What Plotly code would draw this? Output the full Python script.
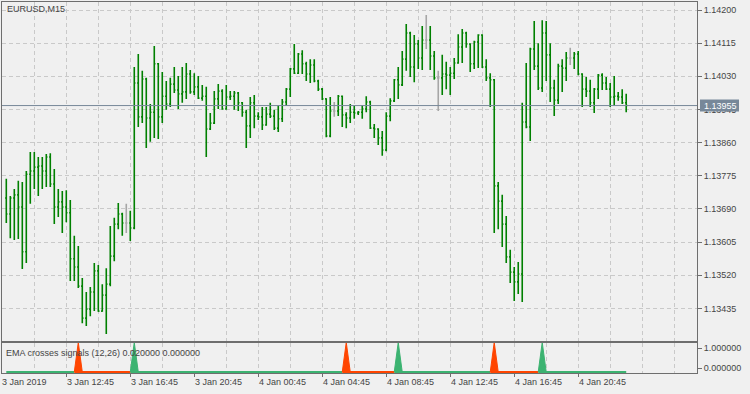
import pandas as pd
import plotly.graph_objects as go

# ---------------- data ----------------
symbol_label = "EURUSD,M15"
indicator_label = "EMA crosses signals (12,26) 0.020000 0.000000"

bar_times = pd.date_range("2019-01-03 09:00", periods=156, freq="15min")

open_prices = [
    1.13718, 1.13677, 1.13718, 1.13726, 1.13695, 1.13580, 1.13779, 1.13787, 1.13797, 1.13800,
    1.13787, 1.13823, 1.13754, 1.13695, 1.13708, 1.13695, 1.13680, 1.13562, 1.13541, 1.13492,
    1.13410, 1.13433, 1.13477, 1.13531, 1.13428, 1.13469, 1.13497, 1.13569, 1.13651, 1.13677,
    1.13654, 1.13654, 1.13641, 1.14013, 1.13926, 1.14023, 1.13923, 1.13938, 1.14062, 1.13926,
    1.13979, 1.13959, 1.14010, 1.13995, 1.13985, 1.13990, 1.14036, 1.13990, 1.14003, 1.13974,
    1.13979, 1.13895, 1.13910, 1.13972, 1.13992, 1.13946, 1.13977, 1.13979, 1.13987, 1.13962,
    1.13938, 1.13903, 1.13962, 1.13928, 1.13926, 1.13905, 1.13933, 1.13928, 1.13897, 1.13921,
    1.13964, 1.13997, 1.14049, 1.14038, 1.14087, 1.14062, 1.14036, 1.14059, 1.14018, 1.13997,
    1.13972, 1.13877, 1.13941, 1.13941, 1.13979, 1.13931, 1.13923, 1.13938, 1.13936, 1.13938,
    1.13946, 1.13964, 1.13897, 1.13895, 1.13872, 1.13841, 1.13928, 1.13967, 1.14021, 1.14008,
    1.14074, 1.14141, 1.14054, 1.14113, 1.14077, 1.14123, 1.14123, 1.14082, 1.14026, 1.14026,
    1.14036, 1.14033, 1.14038, 1.14064, 1.14105, 1.14141, 1.14113, 1.14062, 1.14118, 1.14136,
    1.14054, 1.14026, 1.14021, 1.13749, 1.13710, 1.13651, 1.13567, 1.13528, 1.13503, 1.13523,
    1.13913, 1.13900, 1.14100, 1.14056, 1.14000, 1.14141, 1.14085, 1.14000, 1.13969, 1.14056,
    1.14051, 1.14077, 1.14077, 1.14087, 1.14036, 1.13997, 1.13992, 1.13962, 1.13997, 1.14033,
    1.14013, 1.13997, 1.13977, 1.13979, 1.13977, 1.13962,
]
high_prices = [
    1.13767, 1.13723, 1.13741, 1.13762, 1.13759, 1.13787, 1.13836, 1.13836, 1.13823, 1.13823,
    1.13831, 1.13833, 1.13792, 1.13741, 1.13736, 1.13738, 1.13713, 1.13621, 1.13595, 1.13513,
    1.13477, 1.13490, 1.13551, 1.13546, 1.13497, 1.13538, 1.13646, 1.13667, 1.13705, 1.13680,
    1.13703, 1.13685, 1.14054, 1.14087, 1.14044, 1.14026, 1.13959, 1.14108, 1.14064, 1.14041,
    1.14018, 1.14026, 1.14054, 1.14031, 1.14054, 1.14064, 1.14046, 1.14038, 1.14031, 1.14008,
    1.14003, 1.13936, 1.13992, 1.14010, 1.13997, 1.14008, 1.13992, 1.13992, 1.13990, 1.13964,
    1.13944, 1.13977, 1.13982, 1.13938, 1.13951, 1.13951, 1.13962, 1.13944, 1.13956, 1.13972,
    1.14000, 1.14051, 1.14113, 1.14090, 1.14097, 1.14067, 1.14074, 1.14074, 1.14021, 1.14000,
    1.13974, 1.13977, 1.13964, 1.13982, 1.13981, 1.13938, 1.13959, 1.13954, 1.13941, 1.13956,
    1.13979, 1.13967, 1.13908, 1.13897, 1.13890, 1.13938, 1.13974, 1.14023, 1.14054, 1.14095,
    1.14164, 1.14144, 1.14136, 1.14123, 1.14159, 1.14187, 1.14159, 1.14095, 1.14044, 1.14085,
    1.14067, 1.14054, 1.14077, 1.14138, 1.14151, 1.14144, 1.14115, 1.14121, 1.14138, 1.14138,
    1.14074, 1.14038, 1.14023, 1.13759, 1.13726, 1.13672, 1.13585, 1.13541, 1.13554, 1.13962,
    1.14064, 1.14103, 1.14172, 1.14115, 1.14174, 1.14172, 1.14115, 1.14021, 1.14062, 1.14074,
    1.14092, 1.14103, 1.14092, 1.14095, 1.14038, 1.14028, 1.14021, 1.14000, 1.14036, 1.14038,
    1.14028, 1.14013, 1.14031, 1.13990, 1.13997, 1.13985,
]
low_prices = [
    1.13654, 1.13615, 1.13610, 1.13613, 1.13536, 1.13551, 1.13703, 1.13741, 1.13723, 1.13741,
    1.13746, 1.13746, 1.13651, 1.13669, 1.13628, 1.13656, 1.13505, 1.13505, 1.13487, 1.13397,
    1.13390, 1.13415, 1.13428, 1.13426, 1.13426, 1.13369, 1.13492, 1.13556, 1.13638, 1.13621,
    1.13628, 1.13608, 1.13638, 1.13900, 1.13910, 1.13846, 1.13862, 1.13872, 1.13869, 1.13910,
    1.13944, 1.13951, 1.13987, 1.13946, 1.13962, 1.13972, 1.13985, 1.13982, 1.13972, 1.13967,
    1.13823, 1.13892, 1.13908, 1.13946, 1.13944, 1.13944, 1.13969, 1.13944, 1.13941, 1.13926,
    1.13846, 1.13872, 1.13897, 1.13918, 1.13892, 1.13903, 1.13923, 1.13892, 1.13887, 1.13913,
    1.13954, 1.13977, 1.14036, 1.14036, 1.14036, 1.14018, 1.14013, 1.14015, 1.13992, 1.13969,
    1.13874, 1.13874, 1.13926, 1.13928, 1.13900, 1.13897, 1.13910, 1.13921, 1.13931, 1.13921,
    1.13938, 1.13895, 1.13872, 1.13854, 1.13826, 1.13838, 1.13915, 1.13964, 1.13972, 1.14005,
    1.14044, 1.14028, 1.14015, 1.14049, 1.14046, 1.14100, 1.14046, 1.14021, 1.13941, 1.13982,
    1.13997, 1.13982, 1.14023, 1.14062, 1.14064, 1.14103, 1.14041, 1.14049, 1.14051, 1.14051,
    1.14018, 1.13951, 1.13628, 1.13638, 1.13592, 1.13551, 1.13500, 1.13454, 1.13472, 1.13451,
    1.13897, 1.13864, 1.14046, 1.13995, 1.13990, 1.14018, 1.13964, 1.13928, 1.13959, 1.13990,
    1.14018, 1.14059, 1.14049, 1.14033, 1.13951, 1.13977, 1.13951, 1.13936, 1.13972, 1.13995,
    1.13995, 1.13951, 1.13954, 1.13967, 1.13959, 1.13938,
]
close_prices = [
    1.13677, 1.13718, 1.13726, 1.13695, 1.13580, 1.13779, 1.13787, 1.13797, 1.13800, 1.13787,
    1.13823, 1.13754, 1.13695, 1.13708, 1.13695, 1.13680, 1.13562, 1.13541, 1.13492, 1.13410,
    1.13433, 1.13477, 1.13531, 1.13428, 1.13469, 1.13497, 1.13569, 1.13651, 1.13677, 1.13654,
    1.13654, 1.13641, 1.14013, 1.13926, 1.14023, 1.13923, 1.13938, 1.14062, 1.13926, 1.13979,
    1.13959, 1.14010, 1.13995, 1.13985, 1.13990, 1.14036, 1.13990, 1.14003, 1.13974, 1.13979,
    1.13895, 1.13910, 1.13972, 1.13992, 1.13946, 1.13977, 1.13979, 1.13987, 1.13962, 1.13938,
    1.13903, 1.13962, 1.13928, 1.13926, 1.13905, 1.13933, 1.13928, 1.13897, 1.13921, 1.13964,
    1.13997, 1.14049, 1.14038, 1.14087, 1.14062, 1.14036, 1.14059, 1.14018, 1.13997, 1.13972,
    1.13877, 1.13941, 1.13941, 1.13979, 1.13931, 1.13923, 1.13938, 1.13936, 1.13938, 1.13946,
    1.13964, 1.13897, 1.13895, 1.13872, 1.13841, 1.13928, 1.13967, 1.14021, 1.14008, 1.14074,
    1.14141, 1.14054, 1.14113, 1.14077, 1.14123, 1.14123, 1.14082, 1.14026, 1.14026, 1.14036,
    1.14033, 1.14038, 1.14064, 1.14105, 1.14141, 1.14113, 1.14062, 1.14118, 1.14136, 1.14054,
    1.14026, 1.14021, 1.13749, 1.13710, 1.13651, 1.13567, 1.13528, 1.13503, 1.13523, 1.13913,
    1.13900, 1.14100, 1.14056, 1.14000, 1.14141, 1.14085, 1.14000, 1.13969, 1.14056, 1.14051,
    1.14077, 1.14077, 1.14087, 1.14036, 1.13997, 1.13992, 1.13962, 1.13997, 1.14033, 1.14013,
    1.13997, 1.13977, 1.13979, 1.13977, 1.13962, 1.13955,
]

price_ticks = [1.13435, 1.13520, 1.13605, 1.13690, 1.13775, 1.13860, 1.13945, 1.14030, 1.14115, 1.14200]

first_time_label = "3 Jan 2019"
time_tick_values = ["2019-01-03 12:45", "2019-01-03 16:45", "2019-01-03 20:45",
                    "2019-01-04 00:45", "2019-01-04 04:45", "2019-01-04 08:45",
                    "2019-01-04 12:45", "2019-01-04 16:45", "2019-01-04 20:45"]
time_tick_labels = ["3 Jan 12:45", "3 Jan 16:45", "3 Jan 20:45",
                    "4 Jan 00:45", "4 Jan 04:45", "4 Jan 08:45",
                    "4 Jan 12:45", "4 Jan 16:45", "4 Jan 20:45"]

# EMA(12,26) crossing signals (bar indices)
down_cross_bars = [18, 85, 122]
up_cross_bars = [32, 98, 134]
signal_peak = 1.3
signal_base = -0.2
indicator_ticks = [0.0, 1.0]
indicator_tick_labels = ["0.000000", "1.000000"]

# ---------------- styles ----------------
BG = "#f0f0f0"
FG = "#454545"
BORDER = "#6e6e6e"
GRID = "#c9c9c9"
BAR = "#008000"
DOJI = "#a6a6a6"
UP = "#3cb371"
DN = "#ff4500"
PRICE_LINE = "#778899"
FONT = "Liberation Sans, Arial, sans-serif"

n = len(bar_times)
t = list(bar_times)
step = pd.Timedelta(minutes=15)

doji_idx = [i for i in range(n) if open_prices[i] == close_prices[i]]
reg_idx = [i for i in range(n) if open_prices[i] != close_prices[i]]


def pick(seq, idx):
    return [seq[i] for i in idx]


fig = go.Figure()

for idx, col in ((reg_idx, BAR), (doji_idx, DOJI)):
    fig.add_trace(go.Ohlc(
        x=pick(t, idx), open=pick(open_prices, idx), high=pick(high_prices, idx),
        low=pick(low_prices, idx), close=pick(close_prices, idx),
        increasing=dict(line=dict(color=col, width=1.6)),
        decreasing=dict(line=dict(color=col, width=1.6)),
        tickwidth=0.3, xaxis="x", yaxis="y", hoverinfo="skip", showlegend=False,
    ))

# indicator state
events = {b: -1 for b in down_cross_bars}
events.update({b: 1 for b in up_cross_bars})
state = []
cur = 1
for i in range(n):
    cur = events.get(i, cur)
    state.append(cur)

for s, col in ((1, UP), (-1, DN)):
    yv = [signal_base if (state[i] == s or (i + 1 < n and state[i + 1] == s)) else None for i in range(n)]
    fig.add_trace(go.Scatter(x=t, y=yv, mode="lines", line=dict(color=col, width=2),
                             xaxis="x2", yaxis="y2", hoverinfo="skip", showlegend=False,
                             connectgaps=False))

for bars, col in ((down_cross_bars, DN), (up_cross_bars, UP)):
    xs, ys = [], []
    for k in bars:
        xs += [t[k - 1], t[k], t[k + 1], None]
        ys += [signal_base, signal_peak, signal_base, None]
    fig.add_trace(go.Scatter(x=xs, y=ys, mode="lines", fill="toself", fillcolor=col,
                             line=dict(color=col, width=1), xaxis="x2", yaxis="y2",
                             hoverinfo="skip", showlegend=False))

# ---------------- layout ----------------
x_range = [t[0] - 1.075 * step, t[0] + 172.7 * step]
ind_top = 30 / 371
main_bottom = 32 / 371

common_x = dict(
    range=x_range, showline=True, mirror=True, linecolor=BORDER, linewidth=1,
    showgrid=True, gridcolor=GRID, griddash="4px,3px", gridwidth=1,
    tickmode="array", tickvals=time_tick_values, zeroline=False,
    minor=dict(tick0="2019-01-03 10:45", dtick=2 * 3600 * 1000, showgrid=True,
               gridcolor=GRID, griddash="4px,3px", gridwidth=1, ticks=""),
    automargin=False, fixedrange=True,
)

fig.update_layout(
    width=750, height=394, template="none",
    paper_bgcolor=BG, plot_bgcolor=BG,
    margin=dict(l=2, r=53, t=2, b=21, pad=0),
    font=dict(family=FONT, size=9, color=FG),
    showlegend=False,
    xaxis=dict(**common_x, anchor="y", domain=[0, 1], showticklabels=False, ticks="",
               rangeslider=dict(visible=False)),
    xaxis2=dict(**common_x, anchor="y2", domain=[0, 1], matches="x", showticklabels=False,
                ticks="outside", ticklen=3, tickcolor=BORDER, tickwidth=1),
    yaxis=dict(domain=[main_bottom, 1], anchor="x", side="right",
               range=[1.133513, 1.142205], tickmode="array", tickvals=price_ticks,
               ticktext=[f"{v:.5f}" for v in price_ticks], ticks="outside", ticklen=4,
               tickcolor=BORDER, tickwidth=1, showgrid=True, gridcolor=GRID,
               griddash="4px,3px", gridwidth=1, showline=True, mirror=True,
               linecolor=BORDER, linewidth=1, zeroline=False, automargin=False,
               tickfont=dict(family=FONT, size=9, color=FG)),
    yaxis2=dict(domain=[0, ind_top], anchor="x2", side="right", range=[-0.25, 1.27],
                tickmode="array", tickvals=indicator_ticks, ticktext=indicator_tick_labels,
                ticks="outside", ticklen=4, tickcolor=BORDER, tickwidth=1, showgrid=False,
                showline=True, mirror=True, linecolor=BORDER, linewidth=1, zeroline=False,
                automargin=False, tickfont=dict(family=FONT, size=9, color=FG)),
)

last_close = close_prices[-1]
fig.add_shape(type="line", xref="x domain", yref="y", x0=0, x1=1, y0=last_close, y1=last_close,
              line=dict(color=PRICE_LINE, width=1), layer="above")
fig.add_shape(type="rect", xref="x domain", yref="y", xsizemode="pixel", ysizemode="pixel",
              xanchor=1, yanchor=last_close, x0=3, x1=42, y0=-6, y1=6,
              fillcolor=PRICE_LINE, line=dict(width=0), layer="above")
fig.add_annotation(xref="x domain", yref="y", x=1, y=last_close, xanchor="left", yanchor="middle",
                   xshift=5, text=f"{last_close:.5f}", showarrow=False,
                   font=dict(family=FONT, size=9, color="#ffffff"))

# time labels (left-aligned on their ticks, as in the terminal)
label_y = -(382 - 373) / 371
fig.add_annotation(xref="x2", yref="paper", x=t[0], y=label_y, xanchor="left", yanchor="middle",
                   xshift=-5, text=first_time_label, showarrow=False, borderpad=0)
for tv, tl in zip(time_tick_values, time_tick_labels):
    fig.add_annotation(xref="x2", yref="paper", x=tv, y=label_y, xanchor="left",
                       yanchor="middle", xshift=0, text=tl, showarrow=False, borderpad=0)

fig.add_annotation(xref="paper", yref="paper", x=0, y=(373 - 9.5) / 371, xanchor="left",
                   yanchor="middle", xshift=4, text=symbol_label, showarrow=False, borderpad=0)
fig.add_annotation(xref="paper", yref="paper", x=0, y=(373 - 352.5) / 371, xanchor="left",
                   yanchor="middle", xshift=3, text=indicator_label, showarrow=False, borderpad=0)

fig.write_html("out.html")
